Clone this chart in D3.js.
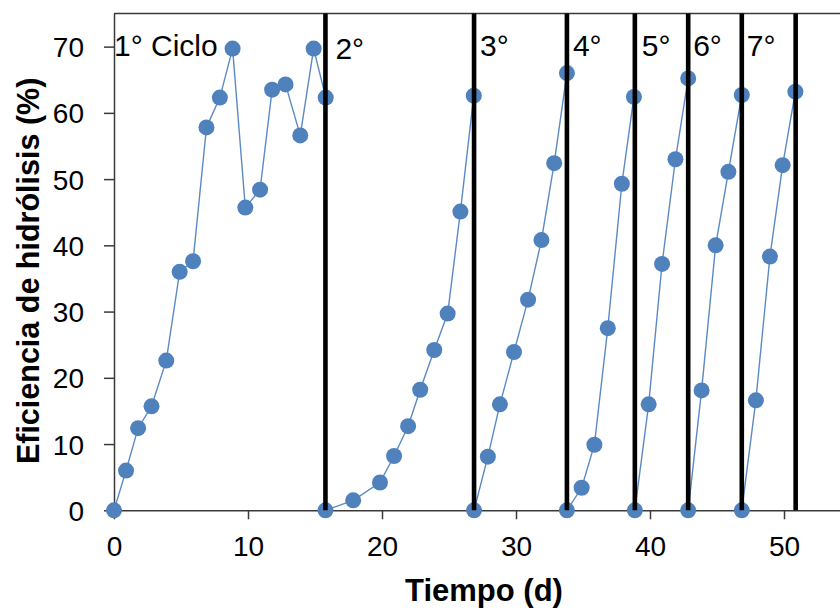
<!DOCTYPE html>
<html>
<head>
<meta charset="utf-8">
<script src="https://cdn.jsdelivr.net/npm/d3@7/dist/d3.min.js"></script>
<style>
  html, body { margin: 0; padding: 0; background: #fff; }
  svg { display: block; }
  text { font-family: "Liberation Sans", Arial, sans-serif; fill: #000; }
</style>
</head>
<body>
<svg id="chart" width="840" height="610"></svg>
<script>
// Hydrolysis efficiency over successive feeding cycles
const cycleLabels = ["1° Ciclo", "2°", "3°", "4°", "5°", "6°", "7°"];
// Day on which each cycle ends (marked by a vertical bar)
const cycleEnds = [15.78, 26.87, 33.8, 38.87, 42.85, 46.85, 50.87];

const days = [
  [0, 0.9, 1.8, 2.8, 3.9, 4.9, 5.9, 6.9, 7.9, 8.85, 9.8, 10.9, 11.8, 12.8, 13.9, 14.9, 15.8],
  [15.78, 17.85, 19.85, 20.9, 21.95, 22.85, 23.9, 24.9, 25.85, 26.85],
  [26.87, 27.9, 28.8, 29.85, 30.9, 31.9, 32.85, 33.8],
  [33.8, 34.9, 35.85, 36.85, 37.9, 38.8],
  [38.87, 39.9, 40.9, 41.9, 42.85],
  [42.85, 43.85, 44.9, 45.85, 46.85],
  [46.85, 47.9, 48.95, 49.9, 50.85]
];
const efficiency = [
  [0, 6.0, 12.4, 15.7, 22.6, 36.0, 37.6, 57.8, 62.3, 69.7, 45.7, 48.4, 63.5, 64.3, 56.6, 69.7, 62.3],
  [0, 1.5, 4.2, 8.2, 12.7, 18.2, 24.2, 29.7, 45.1, 62.6],
  [0, 8.1, 16.0, 23.9, 31.8, 40.8, 52.4, 66.0],
  [0, 3.4, 9.9, 27.5, 49.3, 62.4],
  [0, 16.0, 37.2, 53.0, 65.2],
  [0, 18.1, 40.0, 51.1, 62.7],
  [0, 16.6, 38.3, 52.1, 63.2]
];

const xTicks = [0, 10, 20, 30, 40, 50];
const yTicks = [0, 10, 20, 30, 40, 50, 60, 70];

const svg = d3.select("#chart");
const plotLeft = 114, plotRight = 851, plotTop = 13.5, plotBottom = 510.3;

const x = d3.scaleLinear().domain([0, 55]).range([plotLeft, plotRight]);
const y = d3.scaleLinear().domain([0, 75]).range([plotBottom, plotTop]);

const axisColor = "#3a3a3a";

// Top frame line
svg.append("line")
  .attr("x1", plotLeft).attr("x2", plotRight)
  .attr("y1", plotTop).attr("y2", plotTop)
  .attr("stroke", axisColor).attr("stroke-width", 1.5);

// Axes
const xAxis = svg.append("g")
  .attr("transform", `translate(0,${plotBottom})`)
  .call(d3.axisBottom(x).tickValues(xTicks).tickSize(9).tickPadding(17).tickSizeOuter(0));
const yAxis = svg.append("g")
  .attr("transform", `translate(${plotLeft},0)`)
  .call(d3.axisLeft(y).tickValues(yTicks).tickSize(10).tickPadding(20).tickSizeOuter(0));

[xAxis, yAxis].forEach(g => {
  g.select(".domain").attr("stroke", axisColor).attr("stroke-width", 1.5);
  g.selectAll(".tick line").attr("stroke", axisColor).attr("stroke-width", 1.5);
  g.selectAll(".tick text")
    .attr("font-size", 28)
    .attr("font-family", "'Liberation Sans', Arial, sans-serif")
    .attr("fill", "#000");
});
yAxis.selectAll(".tick text").attr("dy", "0.36em");

// Axis titles
svg.append("text")
  .attr("x", (x(0) + x(50)) / 2 + 35).attr("y", 601)
  .attr("text-anchor", "middle")
  .attr("font-size", 31).attr("font-weight", "bold")
  .text("Tiempo (d)");

svg.append("text")
  .attr("transform", `translate(39,${(plotTop + plotBottom) / 2 + 9}) rotate(-90)`)
  .attr("text-anchor", "middle")
  .attr("font-size", 30.5).attr("font-weight", "bold")
  .text("Eficiencia de hidrólisis (%)");

// Series: one polyline per cycle
const line = d3.line().x(d => x(d[0])).y(d => y(d[1]));
const cycles = days.map((ds, i) => ds.map((d, j) => [d, efficiency[i][j]]));

svg.append("g").selectAll("path")
  .data(cycles).join("path")
  .attr("d", line)
  .attr("fill", "none")
  .attr("stroke", "#5b8ac4")
  .attr("stroke-width", 1.4);

svg.append("g").selectAll("circle")
  .data(cycles.flat()).join("circle")
  .attr("cx", d => x(d[0]))
  .attr("cy", d => y(d[1]))
  .attr("r", 8)
  .attr("fill", "#4f81bd");

// Cycle boundary bars
svg.append("g").selectAll("line")
  .data(cycleEnds).join("line")
  .attr("x1", d => x(d)).attr("x2", d => x(d))
  .attr("y1", plotTop).attr("y2", plotBottom)
  .attr("stroke", "#000").attr("stroke-width", 4.6);

// Cycle labels, each placed just right of the start of its cycle
const cycleStarts = [0].concat(cycleEnds.slice(0, -1));
const labelDx = [0, 10, 6, 6, 7, 5, 5];
const labelBaseline = [56, 59, 56, 56, 56, 56, 56];
svg.append("g").selectAll("text")
  .data(cycleLabels).join("text")
  .attr("x", (d, i) => x(cycleStarts[i]) + labelDx[i])
  .attr("y", (d, i) => labelBaseline[i])
  .attr("font-size", 30)
  .text(d => d);
</script>
</body>
</html>
